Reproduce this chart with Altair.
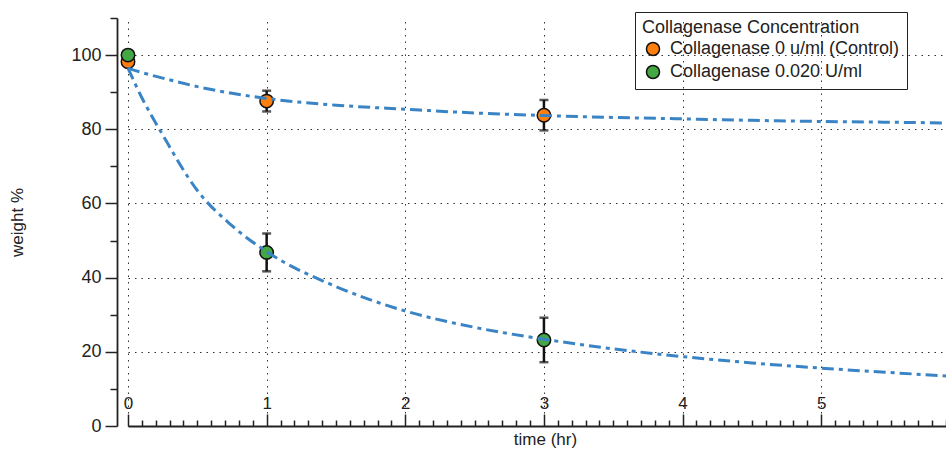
import altair as alt
import pandas as pd

# ---- data ----
series_names = ["Collagenase 0 u/ml (Control)", "Collagenase 0.020 U/ml"]
series_colors = ["#ff7f0e", "#43a843"]

time_points = [0, 1, 3]
control_mean = [98.2, 87.6, 83.8]
control_err = [0.0, 2.8, 4.1]
treated_mean = [100.0, 46.8, 23.2]
treated_err = [0.0, 5.1, 6.0]

fit_time = [0, 0.1, 0.25, 0.5, 0.75, 1, 1.5, 2, 2.5, 3, 3.5, 4, 4.5, 5, 5.5, 5.9]
control_fit = [96.5, 95.3, 93.8, 91.5, 89.7, 88.3, 86.5, 85.4, 84.4, 83.7, 83.2, 82.8, 82.4, 82.1, 81.9, 81.7]
treated_fit = [96.5, 88.5, 78.5, 63.5, 54.0, 47.0, 37.6, 31.0, 26.6, 23.4, 20.8, 18.7, 17.0, 15.6, 14.4, 13.5]

y_ticks = [0, 10, 20, 30, 40, 50, 60, 70, 80, 90, 100, 110]
x_ticks = [round(i * 0.1, 1) for i in range(60)]

# ---- tables ----
pts = pd.DataFrame({
    "time": time_points * 2,
    "weight": control_mean + treated_mean,
    "err": control_err + treated_err,
    "series": [series_names[0]] * 3 + [series_names[1]] * 3,
})
pts["lo"] = pts["weight"] - pts["err"]
pts["hi"] = pts["weight"] + pts["err"]
pts_err = pts[pts["err"] > 0]

fits = pd.DataFrame({
    "time": fit_time * 2,
    "weight": control_fit + treated_fit,
    "curve": ["control"] * len(fit_time) + ["treated"] * len(fit_time),
})

FONT = "Liberation Sans"
W, H = 818, 408

x_scale = alt.Scale(domain=[0, 5.9], nice=False, zero=False)
y_scale = alt.Scale(domain=[0, 110], nice=False)

is_int = "abs(datum.value - round(datum.value)) < 0.001"
is_major_y = "datum.value % 20 == 0 && datum.value <= 100"

x_axis = alt.Axis(
    orient="top", offset=-H, values=x_ticks, tickCount=200,
    labelExpr=f"{is_int} ? format(datum.value, 'd') : ''",
    labelOverlap=False, labelBound=False, labelFlush=False,
    tickSize={"condition": {"test": is_int, "value": 12}, "value": 6},
    tickColor="#222", tickWidth=1.5,
    gridOpacity={"condition": {"test": is_int, "value": 1}, "value": 0},
    grid=True, gridDash=[1.5, 5], gridColor="#333", gridWidth=1,
    domainColor="#222", domainWidth=1.8,
    labelFont=FONT, labelFontSize=17, labelColor="#222", labelPadding=2,
    labelAngle=0, labelAlign="center",
    title="time (hr)", titleFont=FONT, titleFontSize=17, titleFontWeight="normal",
    titleColor="#222", titleY=13, titleX=417, titleBaseline="middle",
)
y_axis = alt.Axis(
    orient="left", offset=11, values=y_ticks, tickCount=200,
    labelExpr=f"{is_major_y} ? format(datum.value, 'd') : ''",
    labelOverlap=False, labelBound=False, labelFlush=False,
    tickSize={"condition": {"test": is_major_y, "value": 12}, "value": 7},
    tickColor="#222", tickWidth=1.5,
    gridOpacity={"condition": {"test": is_major_y + " && datum.value > 0", "value": 1}, "value": 0},
    grid=True, gridDash=[1.5, 5], gridColor="#333", gridWidth=1,
    domainColor="#222", domainWidth=1.8,
    labelFont=FONT, labelFontSize=18, labelColor="#222", labelPadding=4,
    title="weight %", titleFont=FONT, titleFontSize=17, titleFontWeight="normal",
    titleColor="#222", titlePadding=44,
)

color_scale = alt.Scale(domain=series_names, range=series_colors)

err_rules = alt.Chart(pts_err).mark_rule(color="#111", strokeWidth=2.5).encode(
    x=alt.X("time:Q", scale=x_scale, axis=x_axis),
    y=alt.Y("lo:Q", scale=y_scale, axis=y_axis),
    y2="hi:Q",
)
cap_lo = alt.Chart(pts_err).mark_tick(color="#111", thickness=2.5, size=9, orient="horizontal").encode(
    x="time:Q", y="lo:Q"
)
cap_hi = alt.Chart(pts_err).mark_tick(color="#111", thickness=2.5, size=9, orient="horizontal").encode(
    x="time:Q", y="hi:Q"
)

points = alt.Chart(pts).mark_point(
    shape="circle", filled=True, size=180, stroke="#111", strokeWidth=1.5, opacity=1
).encode(
    x="time:Q",
    y="weight:Q",
    color=alt.Color(
        "series:N", scale=color_scale,
        legend=alt.Legend(
            title="Collagenase Concentration", orient="none",
            legendX=507, legendY=-6,
            strokeColor="#222", padding=7,
            titleFont=FONT, titleFontSize=18, titleFontWeight="normal", titleColor="#222",
            titlePadding=3, titleLimit=0, labelLimit=0,
            labelFont=FONT, labelFontSize=18, labelColor="#222",
            symbolType="circle", symbolSize=170, symbolStrokeColor="#111",
            symbolStrokeWidth=1.5, symbolOpacity=1, rowPadding=3, labelOffset=8,
            symbolOffset=2,
        ),
    ),
)

curves = alt.Chart(fits).mark_line(
    color="#3a84c5", strokeWidth=3, strokeDash=[12, 5, 4, 5], interpolate="monotone"
).encode(
    x="time:Q",
    y="weight:Q",
    detail="curve:N",
)

chart = alt.layer(err_rules, cap_lo, cap_hi, points, curves).properties(
    width=W, height=H,
    autosize=alt.AutoSizeParams(type="none"),
    padding={"left": 128, "top": 18, "right": 0, "bottom": 24},
    background="white",
).configure_view(stroke=None)

chart.save("out.html", embed_options={"renderer": "svg", "actions": False})
